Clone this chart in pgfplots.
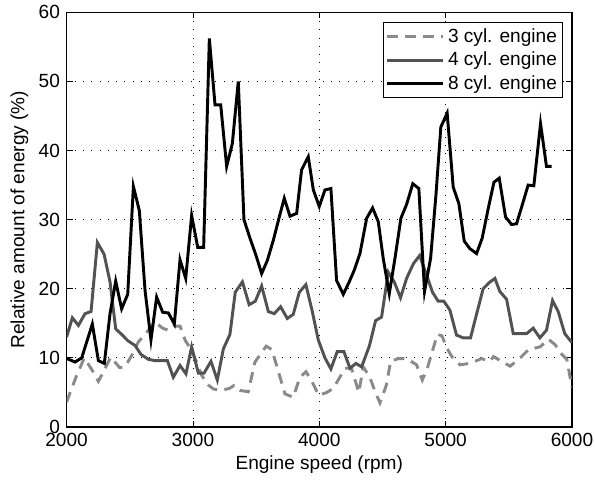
\documentclass[border=0pt]{standalone}
\usepackage{fontspec}
\setmainfont{Liberation Sans}
\usepackage{pgfplots}
\pgfplotsset{compat=1.18}
\usetikzlibrary{calc}
\definecolor{cthree}{RGB}{138,138,138}
\definecolor{cfour}{RGB}{82,82,82}

\begin{document}
\fontsize{14.3}{17}\selectfont
\begin{tikzpicture}
\begin{axis}[
  width=379pt, height=311pt, scale only axis,
  xmin=2000, xmax=6000, ymin=0, ymax=60,
  xtick={2000,3000,4000,5000,6000},
  ytick={0,10,20,30,40,50,60},
  scaled x ticks=false,
  /pgf/number format/1000 sep={},
  /pgf/number format/assume math mode=true,
  tick align=inside,
  major tick length=4.5pt,
  tick style={black, line width=0.6pt},
  axis line style={line width=0.8pt},
  grid=major,
  grid style={black, line width=0.6pt, dash pattern=on 0.6pt off 5.6pt},
  xlabel={Engine speed (rpm)},
  ylabel={Relative amount of energy (\%)},
  xlabel style={yshift=3pt},
  ylabel style={yshift=-2pt},
  legend cell align=left,
  legend style={at={(0.982,0.976)}, anchor=north east, draw=black,
    line width=0.8pt, inner sep=1.5pt, nodes={inner sep=2.6pt}},
  legend image code/.code={\draw[#1] (0pt,0pt) -- (42pt,0pt);},
  clip=true,
]
\coordinate (bl) at (rel axis cs:0,0);
\coordinate (tr) at (rel axis cs:1,1);

% 3 cyl. engine
\addplot[cthree, line width=2.2pt, dash pattern=on 8pt off 5.5pt] coordinates {
(2000,3.6) (2070,7.0) (2140,10.0) (2200,8.3) (2252,6.6) (2300,8.3)
(2350,10.1) (2420,8.6) (2463,8.7) (2520,10.5) (2568,12.3) (2630,13.6)
(2700,15.2) (2760,14.3) (2806,14.0) (2850,14.6) (2898,14.6) (2940,12.5)
(2990,11.1) (3030,9.3) (3069,7.5) (3120,6.1) (3162,5.5) (3227,5.3)
(3290,5.6) (3325,6.0) (3372,5.3) (3438,5.1) (3491,9.4) (3580,11.7)
(3625,11.2) (3680,7.8) (3728,4.8) (3794,4.3) (3847,7.2) (3895,8.0)
(3942,6.6) (3995,4.6) (4060,5.0) (4110,5.6) (4150,6.8) (4203,8.5)
(4255,8.5) (4313,5.0) (4348,8.7) (4400,7.2) (4440,5.2) (4480,3.5)
(4530,6.0) (4565,9.5) (4625,9.9) (4691,9.9) (4770,9.0) (4815,6.8)
(4855,8.5) (4902,11.4) (4935,13.4) (4970,13.2) (5010,11.4) (5049,10.2)
(5113,9.0) (5192,9.2) (5284,9.9) (5350,9.5) (5379,10.2) (5432,9.6)
(5511,8.8) (5590,10.0) (5656,11.2) (5748,11.6) (5814,12.7) (5867,11.9)
(5920,10.5) (5959,9.8) (6000,5.7)
};
\addlegendentry{3 cyl. engine}

% 4 cyl. engine
\addplot[cfour, line width=2.2pt] coordinates {
(2000,13.0) (2046,15.8) (2094,14.7) (2146,16.4) (2194,16.7) (2244,26.7)
(2297,25.0) (2344,21.0) (2389,14.2) (2436,13.4) (2484,12.5) (2542,11.8)
(2589,10.5) (2647,9.8) (2700,9.6) (2748,9.6) (2798,9.6) (2845,7.2)
(2898,8.9) (2945,7.7) (2990,11.6) (3043,7.8) (3088,7.8) (3143,9.5)
(3193,6.8) (3241,11.3) (3293,13.4) (3335,19.5) (3392,21.0) (3445,17.7)
(3494,18.2) (3544,20.4) (3597,16.7) (3644,16.4) (3694,17.4) (3747,15.7)
(3794,16.3) (3842,19.5) (3894,20.6) (3945,16.7) (3992,12.6) (4045,10.0)
(4092,8.4) (4142,10.9) (4195,10.9) (4243,8.5) (4290,9.2) (4335,8.7)
(4396,11.7) (4446,15.4) (4493,15.9) (4546,22.4) (4593,21.0) (4643,18.7)
(4691,21.5) (4744,23.6) (4794,24.8) (4849,22.0) (4896,19.5) (4941,18.2)
(4986,18.2) (5034,16.9) (5086,13.3) (5139,12.9) (5197,12.9) (5250,16.7)
(5297,20.0) (5345,20.9) (5390,21.5) (5429,19.6) (5482,18.5) (5535,13.5)
(5587,13.5) (5640,13.5) (5693,14.3) (5746,12.9) (5798,14.0) (5846,18.3)
(5891,16.7) (5943,13.5) (6000,12.2)
};
\addlegendentry{4 cyl. engine}

% 8 cyl. engine
\addplot[black, line width=2.2pt] coordinates {
(2000,9.9) (2030,9.7) (2067,9.4) (2120,10.0) (2204,14.9) (2252,9.6)
(2299,9.2) (2344,16.4) (2389,21.1) (2436,17.1) (2484,19.2) (2529,34.8)
(2576,31.3) (2621,19.8) (2668,12.6) (2713,18.8) (2761,16.6) (2806,16.5)
(2853,14.9) (2898,24.2) (2943,21.5) (2990,30.6) (3038,26.0) (3085,26.0)
(3130,56.2) (3175,46.6) (3220,46.6) (3267,37.7) (3312,41.0) (3359,50.0)
(3404,30.0) (3452,27.3) (3498,24.9) (3544,22.2) (3589,24.1) (3636,27.0)
(3681,30.2) (3723,33.1) (3768,30.5) (3821,30.9) (3860,37.2) (3913,39.1)
(3953,34.3) (4000,31.9) (4045,34.3) (4092,34.5) (4137,21.2) (4190,19.2)
(4237,21.0) (4277,22.7) (4322,25.1) (4375,30.2) (4422,31.7) (4467,29.7)
(4506,24.4) (4554,19.3) (4599,24.4) (4646,30.2) (4691,32.2) (4740,35.2)
(4788,34.5) (4833,19.6) (4881,24.4) (4923,33.5) (4962,43.4) (5012,45.4)
(5060,34.7) (5105,32.3) (5147,26.9) (5192,25.8) (5245,25.1) (5289,27.3)
(5337,31.6) (5382,35.4) (5424,36.0) (5474,30.4) (5521,29.3) (5561,29.4)
(5606,32.1) (5653,35.0) (5698,34.9) (5751,43.9) (5798,37.7) (5838,37.7)
};
\addlegendentry{8 cyl. engine}
\end{axis}
\pgfresetboundingbox
\path[use as bounding box] ($(bl)+(-49.9pt,-39pt)$) rectangle ($(tr)+(17.25pt,9.2pt)$);
\end{tikzpicture}
\end{document}
